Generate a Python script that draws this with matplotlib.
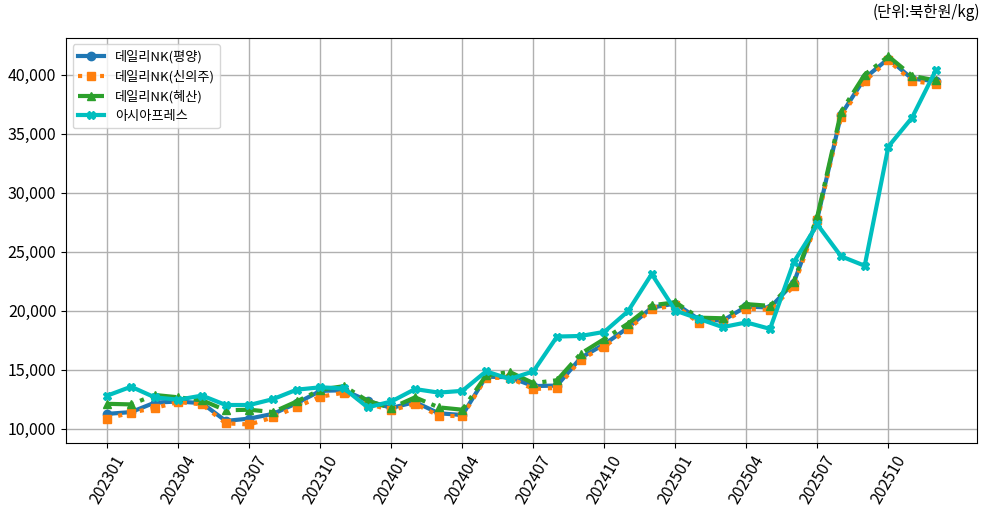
import matplotlib
matplotlib.use("Agg")
import matplotlib.pyplot as plt
from matplotlib.ticker import FuncFormatter

plt.rcParams['font.family'] = ['Noto Sans CJK KR', 'DejaVu Sans']

months = [f"{y}{m:02d}" for y in (2023, 2024, 2025) for m in range(1, 13)]

pyongyang = [11250, 11400, 12200, 12300, 12150, 10650, 10850, 11250, 12150, 13200,
             13250, 12350, 11750, 12250, 11300, 11150, 14400, 14350, 13600, 13650,
             16000, 17150, 18550, 20250, 20600, 19250, 19150, 20350, 20250, 22350,
             27800, 36600, 39700, 41350, 39650, 39450]
sinuiju = [10850, 11350, 11750, 12250, 12050, 10450, 10350, 10950, 11850, 12700,
           13050, 12100, 11550, 12100, 11100, 11050, 14300, 14300, 13350, 13450,
           15850, 16950, 18400, 20100, 20450, 18950, 19050, 20150, 20050, 22050,
           27650, 36400, 39450, 41200, 39450, 39200]
hyesan = [12100, 12050, 12850, 12650, 12400, 11550, 11600, 11400, 12300, 13300,
          13600, 12350, 11750, 12650, 11800, 11600, 14500, 14800, 13850, 14100,
          16350, 17600, 18900, 20450, 20700, 19400, 19350, 20550, 20400, 22450,
          28000, 36850, 40000, 41550, 39900, 39500]
asiapress = [12800, 13550, 12650, 12450, 12800, 12000, 12000, 12500, 13300, 13500,
             13400, 11800, 12300, 13350, 13050, 13200, 14850, 14200, 14850, 17800,
             17850, 18200, 19950, 23100, 20000, 19300, 18600, 19000, 18450, 24100,
             27300, 24600, 23800, 33900, 36350, 40350]

labels = ['데일리NK(평양)', '데일리NK(신의주)', '데일리NK(혜산)', '아시아프레스']

fig = plt.figure(figsize=(9.85, 5.12), dpi=100)
ax = fig.add_axes([0.067, 0.135, 0.925, 0.791])

x = list(range(len(months)))
ax.plot(x, pyongyang, color='tab:blue', linestyle='-', marker='o', lw=3, ms=6, label=labels[0])
ax.plot(x, sinuiju, color='tab:orange', linestyle=':', marker='s', lw=3, ms=6, label=labels[1])
ax.plot(x, hyesan, color='tab:green', linestyle='-.', marker='^', lw=3, ms=6, label=labels[2])
ax.plot(x, asiapress, color='c', linestyle='-', marker='X', lw=3, ms=6, label=labels[3])

ticks = x[::3]
ax.set_xticks(ticks)
ax.set_xticklabels([months[i] for i in ticks], rotation=60, fontsize=11.5)
ax.yaxis.set_major_formatter(FuncFormatter(lambda v, p: f"{int(v):,}"))
ax.tick_params(axis='y', labelsize=11.5)
ax.grid(True, color='#b0b0b0', lw=1)
ax.legend(loc='upper left', fontsize=9.5)

fig.text(0.995, 0.975, '(단위:북한원/kg)', ha='right', va='center', fontsize=11)

fig.savefig('out.png', dpi=100)
